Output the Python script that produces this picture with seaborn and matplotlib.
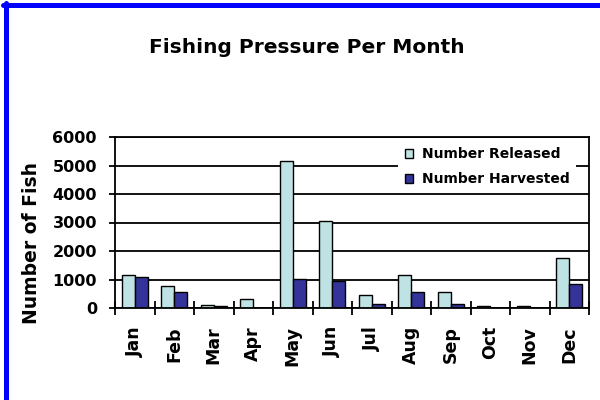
"""
Fishing pressure per month: released vs harvested fish.
"""

import numpy as np
import pandas as pd
import matplotlib
matplotlib.use('Agg')
import matplotlib.pyplot as plt
import seaborn as sns
from matplotlib.lines import Line2D
from matplotlib.patches import Patch

# Datos
meses = ['Jan', 'Feb', 'Mar', 'Apr', 'May', 'Jun',
         'Jul', 'Aug', 'Sep', 'Oct', 'Nov', 'Dec']
liberados = [1170, 760, 120, 330, 5150, 3060, 470, 1170, 550, 70, 70, 1750]
cosechados = [1100, 550, 60, 0, 1030, 960, 130, 550, 130, 0, 0, 840]
series = ['Number Released', 'Number Harvested']
colores = ['#BFE3E4', '#333399']
y_ticks = [0, 1000, 2000, 3000, 4000, 5000, 6000]

df = pd.DataFrame({
    'Mes': meses * 2,
    'Serie': [series[0]] * len(meses) + [series[1]] * len(meses),
    'Peces': liberados + cosechados,
})

sns.set_style('white')
plt.rcParams['font.family'] = ['DejaVu Sans']
plt.rcParams['font.weight'] = 'bold'
plt.rcParams['axes.labelweight'] = 'bold'
plt.rcParams['text.color'] = 'black'
plt.rcParams['axes.labelcolor'] = 'black'
plt.rcParams['xtick.color'] = 'black'
plt.rcParams['ytick.color'] = 'black'

fig = plt.figure(figsize=(6, 4), dpi=100)
ax = fig.add_axes([0.1917, 0.23, 0.79, 0.4275])

sns.barplot(data=df, x='Mes', y='Peces', hue='Serie', palette=colores,
            width=0.65, saturation=1, edgecolor='black', linewidth=1,
            ax=ax, legend=False)

# Ejes y cuadricula
ax.set_ylim(0, 6000)
ax.set_yticks(y_ticks)
ax.set_xlim(-0.5, len(meses) - 0.5)
ax.set_xticks(np.arange(-0.5, len(meses), 1), minor=True)
ax.set_xlabel('')
ax.set_ylabel('')
ax.set_axisbelow(True)
ax.yaxis.grid(True, color='black', linewidth=1.3)

for lado in ['left', 'right', 'top', 'bottom']:
    ax.spines[lado].set_visible(True)
    ax.spines[lado].set_color('black')
    ax.spines[lado].set_linewidth(1.3)

ax.tick_params(axis='x', which='major', bottom=False, length=0, pad=13,
               labelrotation=90, labelsize=12.5, labelcolor='black')
ax.tick_params(axis='x', which='minor', bottom=True, direction='inout',
               length=9.5, width=1.3, color='black')
ax.tick_params(axis='y', left=True, direction='out', length=4, width=1.3,
               pad=9, labelsize=11.5, color='black', labelcolor='black')

# Textos
fig.text(0.511, 0.867, 'Fishing Pressure Per Month', ha='center',
         va='baseline', fontsize=14.5, fontweight='bold', color='black')
fig.text(0.0533, 0.3925, 'Number of Fish', rotation=90, ha='center',
         va='center', fontsize=13.5, fontweight='bold', color='black')

# Leyenda
handles = [Patch(facecolor=c, edgecolor='black', linewidth=1) for c in colores]
leg = ax.legend(handles, series, loc='upper left', bbox_to_anchor=(0.597, 0.982),
                borderaxespad=0, frameon=True, fancybox=False, framealpha=1,
                facecolor='white', edgecolor='none', fontsize=10,
                handlelength=0.6, handleheight=0.6, handletextpad=0.6,
                labelspacing=0.8, borderpad=0.5)
for t in leg.get_texts():
    t.set_color('black')

# Borde azul (arriba e izquierda)
fig.add_artist(Line2D([0.005, 1], [0.9875, 0.9875], color='#0000FF',
                      linewidth=3.6, transform=fig.transFigure))
fig.add_artist(Line2D([0.0092, 0.0092], [0, 0.9925], color='#0000FF',
                      linewidth=3.6, transform=fig.transFigure))

fig.savefig('out.png', dpi=100)
